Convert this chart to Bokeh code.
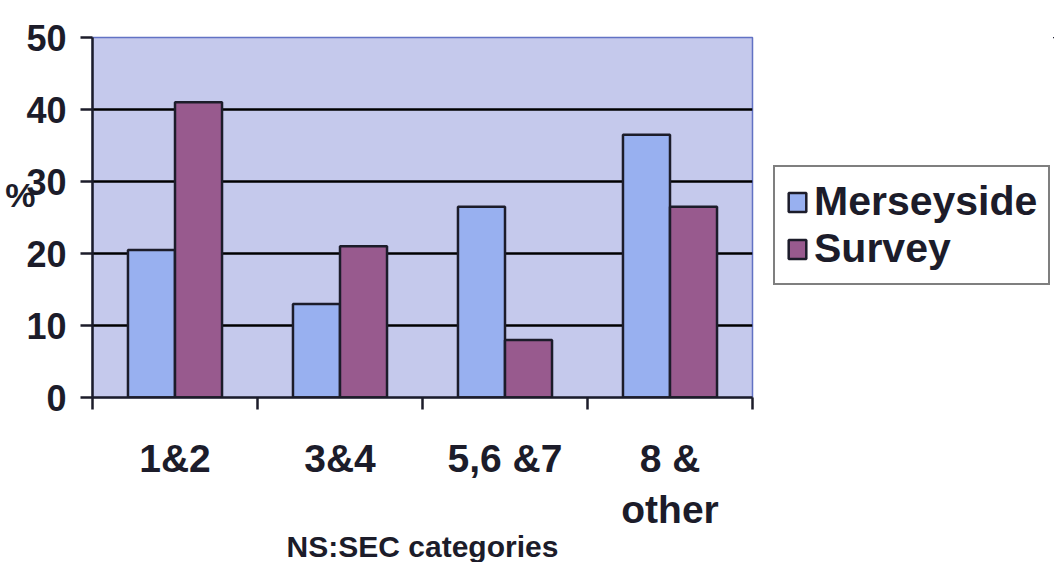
from bokeh.plotting import figure
from bokeh.layouts import row
from bokeh.models import ColumnDataSource, FixedTicker, Legend, LegendItem, Range1d
from bokeh.transform import dodge
from bokeh.embed import file_html
from bokeh.resources import INLINE

# NS:SEC category groups and percentage shares
categories = ["1&2", "3&4", "5,6 &7", "8 &\nother"]
merseyside = [20.5, 13, 26.5, 36.5]
survey = [41, 21, 8, 26.5]
series_names = ["Merseyside", "Survey"]
y_ticks = [0, 10, 20, 30, 40, 50]
grid_ticks = [10, 20, 30, 40]

positions = [i + 0.5 for i in range(len(categories))]
boundaries = list(range(len(categories) + 1))
source = ColumnDataSource(dict(x=positions, merseyside=merseyside, survey=survey))

FONT = "Liberation Sans"
INK = "#1c1c2a"
BLUE = "#98b0f0"
PURPLE = "#985a8e"

p = figure(
    frame_width=660, frame_height=360,
    output_backend="svg", toolbar_location=None,
    x_range=Range1d(0, len(categories)), y_range=Range1d(0, 50),
    min_border_left=92, min_border_top=37, min_border_bottom=165, min_border_right=2,
    background_fill_color="#c5c9ec", border_fill_color="white",
)
p.outline_line_color = "#6272c4"
p.outline_line_width = 1.5

bar_w = 0.285
bar_style = dict(width=bar_w, line_color=INK, line_width=2.5)
p.vbar(x=dodge("x", -bar_w / 2, range=p.x_range), top="merseyside", source=source,
       fill_color=BLUE, **bar_style)
p.vbar(x=dodge("x", bar_w / 2, range=p.x_range), top="survey", source=source,
       fill_color=PURPLE, **bar_style)

# grid
p.xgrid.visible = False
p.ygrid.ticker = FixedTicker(ticks=grid_ticks)
p.ygrid.grid_line_color = "black"
p.ygrid.grid_line_width = 2.5

# y axis, with its "%" unit written horizontally (blank second line lifts it)
ya = p.yaxis[0]
ya.ticker = FixedTicker(ticks=y_ticks)
ya.major_tick_out = 12
ya.major_tick_in = 0
ya.minor_tick_out = 0
ya.minor_tick_in = 0
ya.major_tick_line_width = 2.5
ya.major_tick_line_color = INK
ya.axis_line_width = 2.5
ya.axis_line_color = INK
ya.major_label_text_font = FONT
ya.major_label_text_font_style = "bold"
ya.major_label_text_font_size = "36px"
ya.major_label_text_color = INK
ya.major_label_standoff = 14
ya.axis_label = "%\n"
ya.axis_label_orientation = "horizontal"
ya.axis_label_text_font = FONT
ya.axis_label_text_font_style = "bold"
ya.axis_label_text_font_size = "34px"
ya.axis_label_text_color = INK
ya.axis_label_standoff = -12

# x axis: labels at category centres, ticks at category boundaries
xa = p.xaxis[0]
xa.ticker = FixedTicker(ticks=positions, minor_ticks=boundaries)
xa.major_label_overrides = {pos: cat for pos, cat in zip(positions, categories)}
xa.major_tick_out = 0
xa.major_tick_in = 0
xa.minor_tick_out = 12
xa.minor_tick_in = 0
xa.minor_tick_line_width = 2.5
xa.minor_tick_line_color = INK
xa.axis_line_width = 2.5
xa.axis_line_color = INK
xa.major_label_text_font = FONT
xa.major_label_text_font_style = "bold"
xa.major_label_text_font_size = "39px"
xa.major_label_text_color = INK
xa.major_label_standoff = 27
xa.axis_label = "NS:SEC categories"
xa.axis_label_text_font = FONT
xa.axis_label_text_font_style = "bold"
xa.axis_label_text_font_size = "30px"
xa.axis_label_text_color = INK
xa.axis_label_standoff = -4

# legend panel to the right of the chart; its key renderers use the same
# data but the panel's ranges keep the bars themselves out of view
lg = figure(width=300, height=562, output_backend="svg", toolbar_location=None,
            x_range=Range1d(-20, -10), y_range=Range1d(-20, -10),
            x_axis_location=None, y_axis_location=None,
            min_border_left=0, min_border_right=0, min_border_bottom=165, min_border_top=37,
            background_fill_color="white", border_fill_color="white")
lg.outline_line_color = None
lg.xgrid.visible = False
lg.ygrid.visible = False
k1 = lg.vbar(x="x", top="merseyside", source=source, fill_color=BLUE, **bar_style)
k2 = lg.vbar(x="x", top="survey", source=source, fill_color=PURPLE, **bar_style)

legend = Legend(
    items=[LegendItem(label=series_names[0], renderers=[k1]),
           LegendItem(label=series_names[1], renderers=[k2])],
    location=(19, 108),
    label_text_font=FONT, label_text_font_style="bold", label_text_font_size="41px",
    label_text_color=INK,
    glyph_width=22, glyph_height=24, label_standoff=6,
    padding=11, spacing=0, margin=0,
    border_line_color="black", border_line_width=2,
    background_fill_color="white", background_fill_alpha=1,
)
lg.add_layout(legend)

layout = row(p, lg, spacing=0)
open("out.html", "w").write(file_html(layout, INLINE))
